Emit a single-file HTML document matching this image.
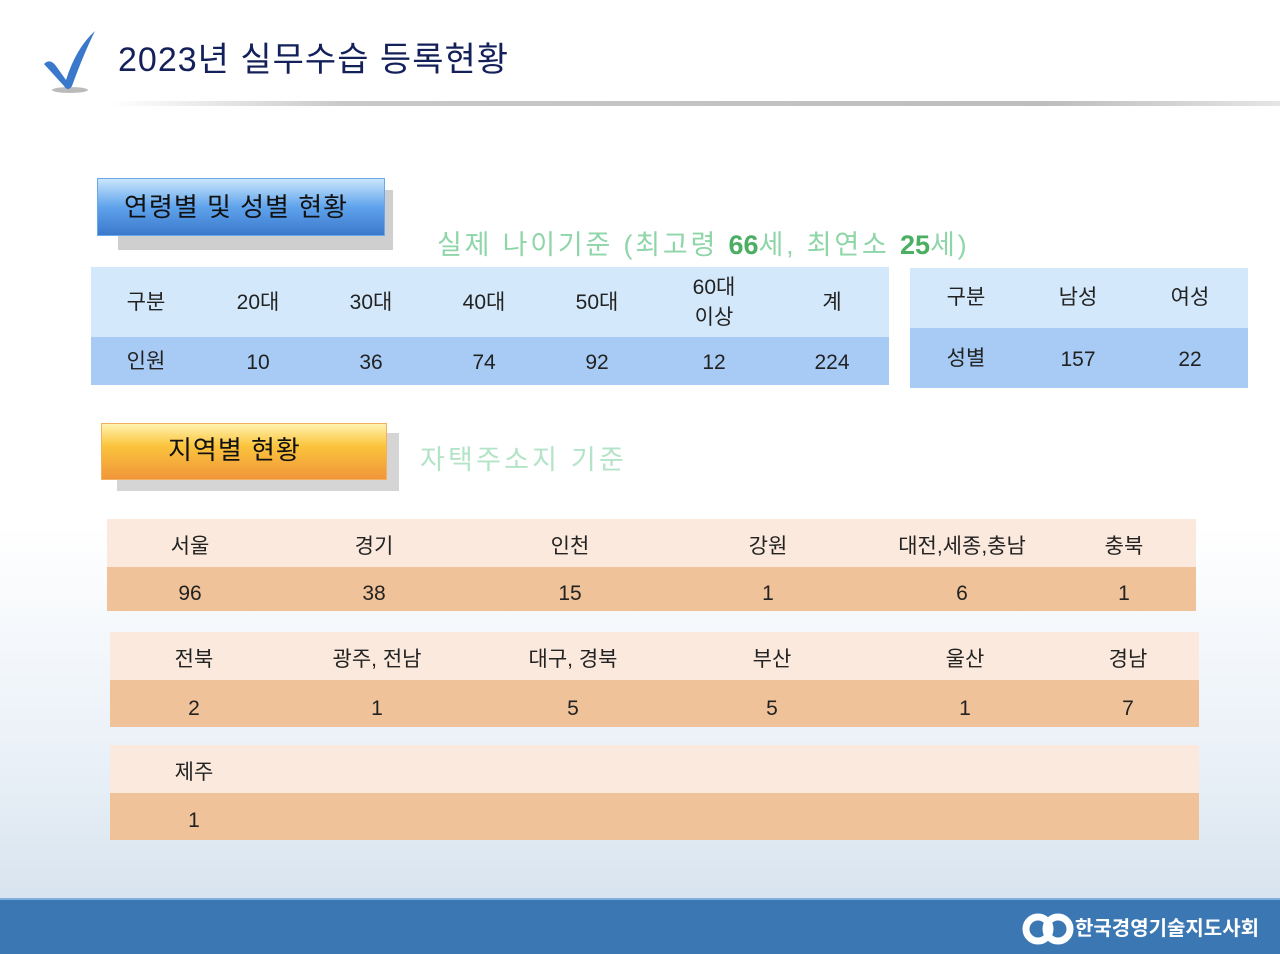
<!DOCTYPE html>
<html><head><meta charset="utf-8"><style>
body{margin:0;width:1280px;height:954px;position:relative;overflow:hidden;font-family:"Liberation Sans","Noto Sans CJK KR",sans-serif;background:linear-gradient(#ffffff 0%,#ffffff 55%,#e9f0f7 80%,#d8e4ef 94%);}
.a{position:absolute}
.c{position:absolute;transform:translateX(-50%);white-space:nowrap;font-size:21px;color:#222;text-align:center;line-height:28px}
</style></head><body>
<div class="a" style="left:110px;top:101px;width:1170px;height:5px;background:linear-gradient(90deg,rgba(200,200,200,0),#c9c9c9 20%,#bdbdbd 80%,#e5e5e5)"></div>
<svg class="a" style="left:40px;top:28px" width="60" height="68" viewBox="0 0 60 68"><ellipse cx="30" cy="62" rx="18" ry="3" fill="#bbb"/><path d="M4 36 Q10 30 16 38 L26 52 Q36 20 55 3 Q44 25 32 58 Q28 64 24 58 Z" fill="#3a78cc"/></svg>
<div class="a" style="left:118px;top:38px;font-size:34px;color:#14205a;line-height:44px;letter-spacing:1px">2023년 실무수습 등록현황</div>

<div class="a" style="left:118px;top:190px;width:275px;height:60px;background:#cfcfcf"></div>
<div class="a" style="left:97px;top:178px;width:288px;height:58px;background:linear-gradient(#c9e6fb,#5fa3ec 50%,#3b79cc);border:1px solid #6aa9e8;box-sizing:border-box;font-size:26px;line-height:56px;padding-left:26px;color:#111;letter-spacing:1px">연령별 및 성별 현황</div>
<div class="a" style="left:437px;top:228px;font-size:27px;color:#8ed5a8;line-height:34px;letter-spacing:2.8px;white-space:nowrap">실제 나이기준 (최고령 <b style="color:#4cae63;letter-spacing:0">66</b>세, 최연소 <b style="color:#4cae63;letter-spacing:0">25</b>세)</div>

<div class="a" style="left:91px;top:267px;width:798px;height:70px;background:#d3e8fb"></div>
<div class="a" style="left:91px;top:337px;width:798px;height:48px;background:#a7cbf5"></div>
<div class="c" style="left:146px;top:289px">구분</div><div class="c" style="left:258px;top:289px">20대</div><div class="c" style="left:371px;top:289px">30대</div><div class="c" style="left:484px;top:289px">40대</div><div class="c" style="left:597px;top:289px">50대</div><div class="c" style="left:714px;top:273px;line-height:30px">60대<br>이상</div><div class="c" style="left:832px;top:289px">계</div>
<div class="c" style="left:146px;top:348px">인원</div><div class="c" style="left:258px;top:349px">10</div><div class="c" style="left:371px;top:349px">36</div><div class="c" style="left:484px;top:349px">74</div><div class="c" style="left:597px;top:349px">92</div><div class="c" style="left:714px;top:349px">12</div><div class="c" style="left:832px;top:349px">224</div>

<div class="a" style="left:910px;top:268px;width:338px;height:60px;background:#d3e8fb"></div>
<div class="a" style="left:910px;top:328px;width:338px;height:60px;background:#a7cbf5"></div>
<div class="c" style="left:966px;top:284px">구분</div><div class="c" style="left:1078px;top:284px">남성</div><div class="c" style="left:1190px;top:284px">여성</div>
<div class="c" style="left:966px;top:345px">성별</div><div class="c" style="left:1078px;top:346px">157</div><div class="c" style="left:1190px;top:346px">22</div>

<div class="a" style="left:117px;top:433px;width:282px;height:58px;background:#d5d5d5"></div>
<div class="a" style="left:101px;top:423px;width:286px;height:57px;background:linear-gradient(#fff3b0,#fbc43c 40%,#f0963a);border:1px solid #f3b060;box-sizing:border-box;font-size:26px;line-height:52px;padding-left:66px;color:#111;letter-spacing:1px">지역별 현황</div>
<div class="a" style="left:420px;top:443px;font-size:27px;color:#b4e4c7;line-height:34px;letter-spacing:3.2px">자택주소지 기준</div>

<div class="a" style="left:107px;top:519px;width:1089px;height:48px;background:#fae9dc"></div>
<div class="a" style="left:107px;top:567px;width:1089px;height:44px;background:#f0c299"></div>
<div class="c" style="left:190px;top:533px">서울</div><div class="c" style="left:374px;top:533px">경기</div><div class="c" style="left:570px;top:533px">인천</div><div class="c" style="left:768px;top:533px">강원</div><div class="c" style="left:962px;top:533px">대전,세종,충남</div><div class="c" style="left:1124px;top:533px">충북</div>
<div class="c" style="left:190px;top:580px">96</div><div class="c" style="left:374px;top:580px">38</div><div class="c" style="left:570px;top:580px">15</div><div class="c" style="left:768px;top:580px">1</div><div class="c" style="left:962px;top:580px">6</div><div class="c" style="left:1124px;top:580px">1</div>

<div class="a" style="left:110px;top:632px;width:1089px;height:48px;background:#fae9dc"></div>
<div class="a" style="left:110px;top:680px;width:1089px;height:47px;background:#f0c299"></div>
<div class="c" style="left:194px;top:646px">전북</div><div class="c" style="left:377px;top:646px">광주, 전남</div><div class="c" style="left:573px;top:646px">대구, 경북</div><div class="c" style="left:772px;top:646px">부산</div><div class="c" style="left:965px;top:646px">울산</div><div class="c" style="left:1128px;top:646px">경남</div>
<div class="c" style="left:194px;top:695px">2</div><div class="c" style="left:377px;top:695px">1</div><div class="c" style="left:573px;top:695px">5</div><div class="c" style="left:772px;top:695px">5</div><div class="c" style="left:965px;top:695px">1</div><div class="c" style="left:1128px;top:695px">7</div>

<div class="a" style="left:110px;top:745px;width:1089px;height:48px;background:#fae9dc"></div>
<div class="a" style="left:110px;top:793px;width:1089px;height:47px;background:#f0c299"></div>
<div class="c" style="left:194px;top:759px">제주</div><div class="c" style="left:194px;top:807px">1</div>

<div class="a" style="left:0;top:898px;width:1280px;height:56px;background:#3b77b3;border-top:2px solid #7fb0dd;box-sizing:border-box"></div>
<svg class="a" style="left:1022px;top:912px" width="52" height="34"><circle cx="16" cy="17" r="12" fill="none" stroke="#fff" stroke-width="7"/><circle cx="36" cy="17" r="12" fill="none" stroke="#fff" stroke-width="7"/></svg>
<div class="a" style="left:1075px;top:914px;font-size:20px;font-weight:bold;color:#fff;line-height:30px">한국경영기술지도사회</div>
</body></html>
